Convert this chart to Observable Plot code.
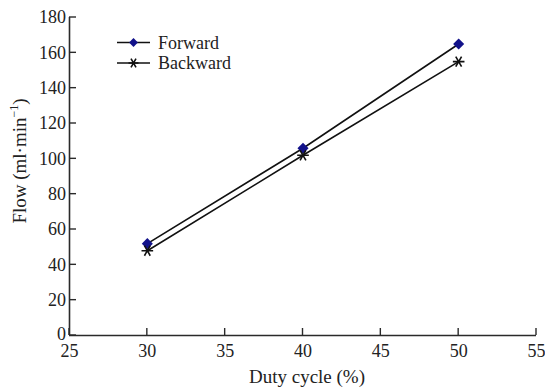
<!DOCTYPE html>
<html>
<head>
<meta charset="utf-8">
<script src="https://cdn.jsdelivr.net/npm/d3@7"></script>
<script src="https://cdn.jsdelivr.net/npm/@observablehq/plot@0.6"></script>
<style>
  html, body { margin: 0; padding: 0; background: #fff; }
  #chart { position: relative; width: 545px; height: 388px; }
  #chart svg, #chart svg text { font-family: 'Liberation Serif', 'Times New Roman', serif !important; }
</style>
</head>
<body>
<div id="chart"></div>
<script>
const dutyCycle = [30, 40, 50];
const forward = [52, 106, 165];
const backward = [48, 102, 155];
const xTicks = [25, 30, 35, 40, 45, 50, 55];
const yTicks = [0, 20, 40, 60, 80, 100, 120, 140, 160, 180];
const seriesNames = ["Forward", "Backward"];

const rows = [];
dutyCycle.forEach((d, i) => {
  rows.push({series: seriesNames[0], x: d, y: forward[i]});
  rows.push({series: seriesNames[1], x: d, y: backward[i]});
});
const fwd = rows.filter(r => r.series === "Forward");
const bwd = rows.filter(r => r.series === "Backward");

const font = "'Liberation Serif', 'Times New Roman', serif";
const axisColor = "#2a2a2a";
const textColor = "#222";
const diamondFill = "#12128a";

const chart = Plot.plot({
  width: 545,
  height: 388,
  marginLeft: 69,
  marginRight: 9,
  marginTop: 17,
  marginBottom: 53,
  style: {fontFamily: font, fontSize: "18px", color: textColor, background: "#fff"},
  x: {domain: [25, 55]},
  y: {domain: [0, 180]},
  marks: [
    Plot.line(fwd, {x: "x", y: "y", stroke: "#111", strokeWidth: 1.6}),
    Plot.line(bwd, {x: "x", y: "y", stroke: "#111", strokeWidth: 1.6}),
    Plot.dot(fwd, {x: "x", y: "y", symbol: "diamond2", fill: diamondFill, r: 5}),
    Plot.dot(bwd, {x: "x", y: "y", symbol: "asterisk", rotate: 90, stroke: "#111", strokeWidth: 1.6, r: 5.5}),
    // tick labels
    Plot.axisY({ticks: yTicks, tickSize: 0, tickPadding: 3.5, label: null, fill: textColor, fontSize: 18}),
    Plot.axisX({ticks: xTicks, tickSize: 0, tickPadding: 9, label: null, fill: textColor, fontSize: 18}),
    // axis lines
    Plot.ruleX([25], {stroke: axisColor, strokeWidth: 1.6}),
    Plot.ruleY([0], {stroke: axisColor, strokeWidth: 1.6})
  ]
});

const svg = d3.select(chart);
svg.selectAll("text").attr("font-family", font);
// lift the "0" y tick label slightly, as in the reference
svg.selectAll("[aria-label='y-axis tick label'] text").filter(function() { return this.textContent === "0"; })
  .attr("dy", "-0.05em");
const sx = chart.scale("x"), sy = chart.scale("y");
const x0 = sx.apply(25), y0 = sy.apply(0);
const tickLen = 7;

// inward tick marks, positioned through Plot's scales
const ticks = svg.append("g").attr("stroke", axisColor).attr("stroke-width", 1.4);
yTicks.forEach(v => {
  const y = sy.apply(v);
  ticks.append("line").attr("x1", x0).attr("x2", x0 + tickLen).attr("y1", y).attr("y2", y);
});
xTicks.forEach(v => {
  const x = sx.apply(v);
  ticks.append("line").attr("x1", x).attr("x2", x).attr("y1", y0).attr("y2", y0 - tickLen);
});

// axis titles
svg.append("text")
  .attr("x", 307).attr("y", 383)
  .attr("text-anchor", "middle")
  .attr("font-family", font).attr("font-size", 19).attr("fill", textColor)
  .text("Duty cycle (%)");
const yl = svg.append("text")
  .attr("transform", "translate(26,161) rotate(-90)")
  .attr("text-anchor", "middle")
  .attr("font-family", font).attr("font-size", 19).attr("fill", textColor);
yl.append("tspan").text("Flow (ml·min");
yl.append("tspan").attr("font-size", 12).attr("dy", -8).text("−1");
yl.append("tspan").attr("dy", 8).text(")");

// legend
const legend = svg.append("g").attr("font-family", font).attr("font-size", 18)
  .attr("fill", textColor).attr("text-anchor", "start");
const items = [
  {name: seriesNames[0], y: 42.5, symbol: d3.symbolDiamond2, size: 50, fill: diamondFill, stroke: "none", rot: 0},
  {name: seriesNames[1], y: 63, symbol: d3.symbolAsterisk, size: 70, fill: "none", stroke: "#111", rot: 90}
];
items.forEach(it => {
  legend.append("line").attr("x1", 117).attr("x2", 150).attr("y1", it.y).attr("y2", it.y)
    .attr("stroke", "#111").attr("stroke-width", 1.6);
  legend.append("path").attr("d", d3.symbol(it.symbol, it.size)())
    .attr("transform", `translate(133.5,${it.y}) rotate(${it.rot})`)
    .attr("fill", it.fill).attr("stroke", it.stroke).attr("stroke-width", 1.6);
  legend.append("text").attr("x", 158).attr("y", it.y).attr("dy", "0.35em").text(it.name);
});

document.getElementById("chart").appendChild(chart);
</script>
</body>
</html>
